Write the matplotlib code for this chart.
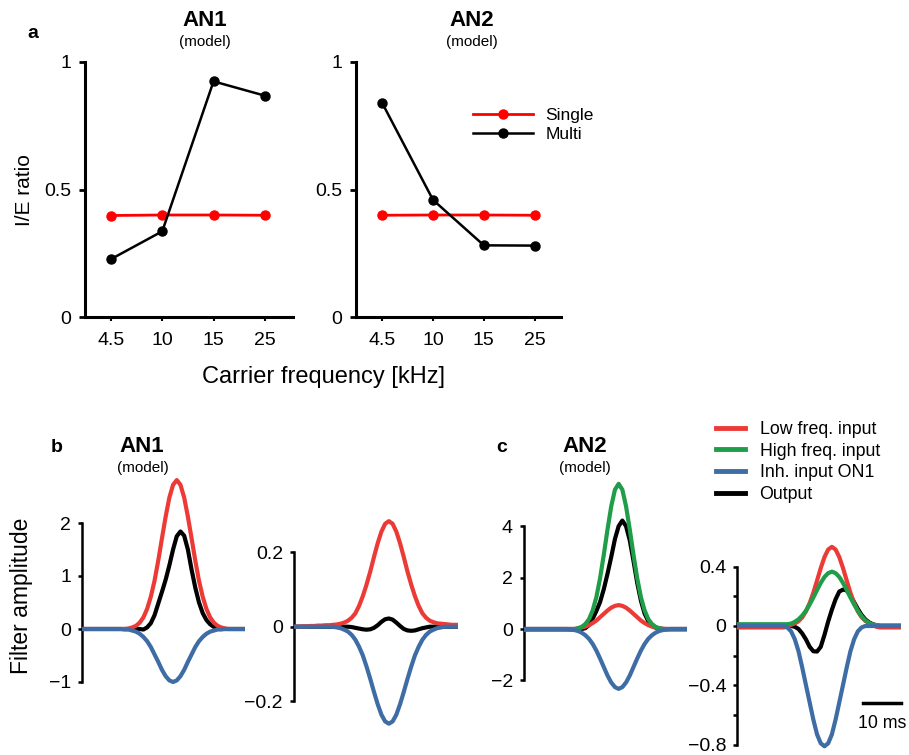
import numpy as np
import matplotlib
matplotlib.use('Agg')
import matplotlib.pyplot as plt
from matplotlib.lines import Line2D

plt.rcParams['font.family'] = ['Liberation Sans', 'DejaVu Sans']

W, H = 909, 755

# ---- panel a: I/E ratio per carrier frequency ----
freq_labels = ['4.5', '10', '15', '25']
an1_single = [0.398, 0.400, 0.400, 0.399]
an1_multi = [0.227, 0.336, 0.924, 0.868]
an2_single = [0.399, 0.400, 0.400, 0.399]
an2_multi = [0.839, 0.459, 0.281, 0.280]

# ---- panels b, c: filter kernels, sampled every 1 ms ----
t_ms = np.arange(46)

b1_red = [0]*13 + [0.01, 0.03, 0.06, 0.12, 0.22, 0.38, 0.61, 0.91, 1.29, 1.71, 2.12, 2.48, 2.72,
                   2.81, 2.72, 2.48, 2.12, 1.71, 1.29, 0.91, 0.61, 0.38, 0.22, 0.12, 0.06, 0.03, 0.01] + [0]*6
b1_black = [0]*17 + [-0.01, 0.03, 0.11, 0.26, 0.48, 0.70, 0.93, 1.20, 1.50, 1.75, 1.84, 1.76, 1.50,
                     1.12, 0.78, 0.50, 0.30, 0.17, 0.09, 0.04, 0.02, 0.01] + [0]*7
b1_blue = [0]*12 + [-0.01, -0.01, -0.03, -0.05, -0.09, -0.15, -0.23, -0.34, -0.48, -0.62, -0.77, -0.89,
                    -0.97, -1.0, -0.97, -0.89, -0.77, -0.62, -0.48, -0.34, -0.23, -0.15, -0.09, -0.05,
                    -0.03, -0.01, -0.01] + [0]*7

b2_red = [0.0, 0.0, 0.0, 0.001, 0.001, 0.002, 0.002, 0.003, 0.003, 0.004, 0.004, 0.005, 0.006, 0.008,
          0.011, 0.016, 0.024, 0.036, 0.056, 0.082, 0.113, 0.148, 0.187, 0.224, 0.255, 0.276, 0.283,
          0.276, 0.255, 0.224, 0.187, 0.148, 0.113, 0.082, 0.056, 0.036, 0.024, 0.016, 0.012, 0.009,
          0.008, 0.007, 0.006, 0.005, 0.005, 0.005]
b2_black = [0]*16 + [-0.001, -0.003, -0.005, -0.007, -0.008, -0.007, -0.003, 0.004, 0.013, 0.020,
                     0.022, 0.019, 0.011, 0.002, -0.006, -0.010, -0.011, -0.010, -0.007, -0.004,
                     -0.002] + [0]*9
b2_blue = [0]*12 + [-0.002, -0.004, -0.008, -0.013, -0.022, -0.035, -0.054, -0.077, -0.107, -0.140,
                    -0.175, -0.208, -0.236, -0.254, -0.26, -0.254, -0.236, -0.208, -0.175, -0.140,
                    -0.107, -0.077, -0.054, -0.035, -0.022, -0.013, -0.008, -0.004, -0.002] + [0]*5

c1_green = [-0.03]*15 + [0.03, 0.08, 0.19, 0.38, 0.72, 1.24, 1.98, 2.89, 3.87, 4.77, 5.42, 5.65,
                         5.42, 4.77, 3.87, 2.89, 1.98, 1.24, 0.72, 0.38, 0.19, 0.08, 0.03, 0.0] + [-0.02]*7
c1_black = [0]*17 + [0.03, 0.15, 0.4, 0.7, 1.05, 1.55, 2.15, 2.8, 3.5, 4.0, 4.22, 4.0, 3.45, 2.65,
                     1.8, 1.1, 0.6, 0.3, 0.13, 0.05, 0.01] + [0]*8
c1_red = [0]*15 + [0.03, 0.055, 0.09, 0.15, 0.23, 0.33, 0.46, 0.59, 0.72, 0.83, 0.90, 0.93, 0.90,
                   0.83, 0.72, 0.59, 0.46, 0.33, 0.23, 0.15, 0.09, 0.055, 0.03, 0.01] + [0]*7
c1_blue = [0]*13 + [-0.02, -0.04, -0.075, -0.14, -0.24, -0.38, -0.58, -0.84, -1.15, -1.48, -1.81,
                    -2.08, -2.26, -2.33, -2.26, -2.08, -1.81, -1.48, -1.15, -0.84, -0.58, -0.38,
                    -0.24, -0.14, -0.075, -0.04, -0.02] + [0]*6

c2_red = [-0.01]*14 + [-0.005, 0.008, 0.017, 0.032, 0.058, 0.098, 0.154, 0.224, 0.306, 0.390, 0.464,
                       0.515, 0.533, 0.515, 0.464, 0.390, 0.306, 0.224, 0.154, 0.098, 0.06, 0.035,
                       0.02, 0.008, -0.005] + [-0.01]*7
c2_green = [0.012]*15 + [0.016, 0.028, 0.045, 0.070, 0.103, 0.145, 0.192, 0.242, 0.290, 0.330, 0.356,
                         0.366, 0.356, 0.330, 0.290, 0.242, 0.192, 0.145, 0.103, 0.065, 0.038, 0.02,
                         0.01, 0.006] + [0.004]*7
c2_black = [0]*16 + [-0.005, -0.02, -0.05, -0.09, -0.14, -0.17, -0.172, -0.14, -0.06, 0.03, 0.11,
                     0.18, 0.232, 0.245, 0.24, 0.205, 0.16, 0.115, 0.075, 0.045, 0.025, 0.012,
                     0.005] + [0]*7
c2_blue = [0]*14 + [-0.01, -0.036, -0.089, -0.17, -0.279, -0.397, -0.514, -0.63, -0.73, -0.79, -0.81,
                    -0.79, -0.73, -0.63, -0.514, -0.397, -0.279, -0.17, -0.089, -0.036, -0.01] + [0]*11

RED_A = '#ff0000'
RED = '#ec3b36'
GREEN = '#1f9d48'
BLUE = '#3e6ca5'

fig = plt.figure(figsize=(W/100, H/100), dpi=100)


def px_axes(left, right, top, bottom):
    return fig.add_axes([left/W, 1-bottom/H, (right-left)/W, (bottom-top)/H])


def ftext(x, y, s, **kw):
    fig.text(x/W, 1-y/H, s, ha=kw.pop('ha', 'center'), va=kw.pop('va', 'center'), **kw)


# ---------------- panel a ----------------
def ratio_axes(left, right, xlo, xhi, single, multi):
    ax = px_axes(left, right, 62, 317)
    x = np.arange(len(freq_labels))
    ax.plot(x, single, color=RED_A, lw=2.0, marker='o', ms=6.5, clip_on=False, label='Single')
    ax.plot(x, multi, color='black', lw=1.8, marker='o', ms=6.5, clip_on=False, label='Multi')
    ax.set_xlim(xlo, xhi)
    ax.set_ylim(0, 1)
    ax.set_yticks([0, 0.5, 1])
    ax.set_yticklabels(['0', '0.5', '1'])
    ax.set_xticks(x)
    ax.set_xticklabels(freq_labels)
    ax.spines['top'].set_visible(False)
    ax.spines['right'].set_visible(False)
    ax.spines['left'].set_linewidth(2.2)
    ax.spines['bottom'].set_linewidth(2.2)
    ax.tick_params(axis='y', direction='out', length=4, width=2, labelsize=14, pad=6)
    ax.tick_params(axis='x', direction='out', length=3, width=1.5, labelsize=14, pad=8)
    return ax


ax_a1 = ratio_axes(85, 293, -0.507, 3.55, an1_single, an1_multi)
ax_a2 = ratio_axes(356, 560.6, -0.516, 3.51, an2_single, an2_multi)

h, l = ax_a2.get_legend_handles_labels()
fig.legend(h, l, loc='upper left', bbox_to_anchor=(472.7/W, 1-108/H), frameon=False,
           fontsize=12.5, handlelength=3.5, handletextpad=0.7, labelspacing=0.2,
           borderpad=0, borderaxespad=0, numpoints=1)

ftext(33, 33, 'a', fontsize=14, fontweight='bold')
ftext(205, 20, 'AN1', fontsize=16, fontweight='bold')
ftext(205, 42, '(model)', fontsize=11)
ftext(472, 20, 'AN2', fontsize=16, fontweight='bold')
ftext(472, 42, '(model)', fontsize=11)
ftext(24, 190, 'I/E ratio', fontsize=15, rotation=90)
ftext(324, 377, 'Carrier frequency [kHz]', fontsize=17)


# ---------------- panels b, c ----------------
def filt_axes(left, right, zero, ppu, ylo, yhi, ticks, labels):
    top = zero - yhi*ppu
    bot = zero - ylo*ppu
    ax = px_axes(left, right, top, bot)
    ax.set_xlim(0.5, 44.5)
    ax.set_ylim(ylo, yhi)
    for s in ['top', 'right', 'bottom']:
        ax.spines[s].set_visible(False)
    ax.spines['left'].set_linewidth(1.8)
    ax.spines['left'].set_bounds(ticks[0], ticks[-1])
    ax.set_xticks([])
    ax.set_yticks(ticks)
    ax.set_yticklabels(labels)
    ax.tick_params(axis='y', direction='out', length=3, width=1.8, labelsize=14, pad=5)
    ax.patch.set_alpha(0)
    return ax


def curves(ax, black, red, green, blue):
    ax.plot(t_ms, black, color='black', lw=3, solid_capstyle='projecting', zorder=2)
    ax.plot(t_ms, red, color=RED, lw=3, zorder=3)
    if green is not None:
        ax.plot(t_ms, green, color=GREEN, lw=3, zorder=4)
    ax.plot(t_ms, blue, color=BLUE, lw=3, zorder=5)


ax_b1 = filt_axes(82.3, 245.3, 629, 53, -1.15, 2.95, [-1, 0, 1, 2], ['\u22121', '0', '1', '2'])
curves(ax_b1, b1_black, b1_red, None, b1_blue)

ax_b2 = filt_axes(294, 457.7, 626.7, 373, -0.3, 0.31, [-0.2, 0, 0.2], ['\u22120.2', '0', '0.2'])
curves(ax_b2, b2_black, b2_red, None, b2_blue)

ax_c1 = filt_axes(524, 687.3, 629, 25.7, -2.5, 5.9, [-2, 0, 2, 4], ['\u22122', '0', '2', '4'])
curves(ax_c1, c1_black, c1_red, c1_green, c1_blue)

ax_c2 = filt_axes(737.3, 900.5, 626, 148.5, -0.85, 0.6,
                  [-0.8, -0.6, -0.4, -0.2, 0, 0.2, 0.4],
                  ['\u22120.8', '', '\u22120.4', '', '0', '', '0.4'])
curves(ax_c2, c2_black, c2_red, c2_green, c2_blue)

# 10 ms scale bar
ax_c2.plot([34.5, 44.5], [-0.52, -0.52], color='black', lw=2.5, clip_on=False)
ax_c2.text(39.5, -0.655, '10 ms', ha='center', va='center', fontsize=12.8)

leg_handles = [Line2D([], [], color=RED, lw=3.5),
               Line2D([], [], color=GREEN, lw=3.5),
               Line2D([], [], color=BLUE, lw=3.5),
               Line2D([], [], color='black', lw=3.5)]
leg_labels = ['Low freq. input', 'High freq. input', 'Inh. input ON1', 'Output']
fig.legend(leg_handles, leg_labels, loc='upper left', bbox_to_anchor=(716/W, 1-421/H),
           frameon=False, fontsize=12.8, handlelength=1.65, handletextpad=0.8,
           labelspacing=0.26, borderpad=0, borderaxespad=0)

ftext(57, 447, 'b', fontsize=14, fontweight='bold')
ftext(142, 447, 'AN1', fontsize=16, fontweight='bold')
ftext(143, 468, '(model)', fontsize=11)
ftext(502, 447, 'c', fontsize=14, fontweight='bold')
ftext(585, 447, 'AN2', fontsize=16, fontweight='bold')
ftext(585, 468, '(model)', fontsize=11)
ftext(22, 596, 'Filter amplitude', fontsize=16.5, rotation=90)

fig.savefig('out.png', dpi=100)
